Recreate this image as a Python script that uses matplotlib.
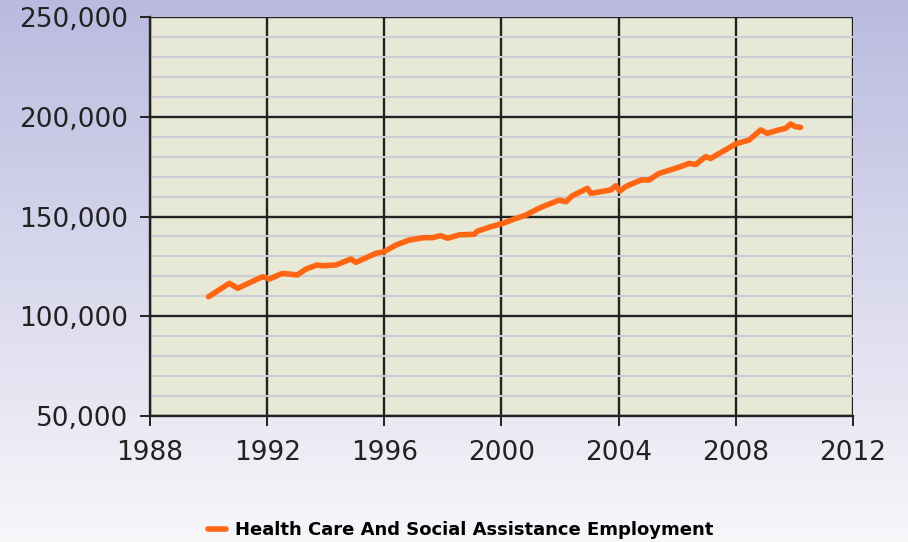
import numpy as np
import matplotlib
matplotlib.use('Agg')
import matplotlib.pyplot as plt
from matplotlib.ticker import FuncFormatter, MultipleLocator


# values (decimal year, employment)
years = [1990.0, 1990.71, 1990.99, 1991.84, 1992.08, 1992.52, 1993.03, 1993.33,
         1993.71, 1993.88, 1994.35, 1994.86, 1995.03, 1995.72, 1996.0, 1996.4,
         1996.85, 1997.36, 1997.64, 1997.93, 1998.16, 1998.56, 1999.07, 1999.17,
         1999.64, 2000.03, 2000.49, 2000.83, 2001.22, 2001.4, 2001.97, 2002.2,
         2002.42, 2002.93, 2003.05, 2003.73, 2003.9, 2004.04, 2004.24, 2004.76,
         2005.04, 2005.38, 2005.95, 2006.17, 2006.4, 2006.63, 2006.97, 2007.14,
         2007.54, 2008.0, 2008.45, 2008.85, 2009.07, 2009.47, 2009.7, 2009.87,
         2010.04, 2010.21]
employment = [109800, 116500, 114000, 119800, 118700, 121500, 120700, 123700,
              125700, 125300, 125700, 128700, 127000, 131600, 132400, 135700,
              138200, 139400, 139400, 140400, 139100, 140800, 141100, 142600,
              144900, 146500, 149000, 150700, 153700, 154900, 158200, 157400,
              160400, 164100, 161600, 163300, 165400, 162800, 165000, 168300,
              168300, 171600, 174200, 175300, 176600, 176100, 180000, 179100,
              182500, 186400, 188300, 193400, 191700, 193400, 194200, 196400,
              195000, 194700]
series_name = 'Health Care And Social Assistance Employment'

x_ticks = [1988, 1992, 1996, 2000, 2004, 2008, 2012]


fig = plt.figure(figsize=(9.08, 5.42), dpi=100)

# lavender to white background
bg = fig.add_axes([0, 0, 1, 1], zorder=-10)
top = np.array([186, 186, 224]) / 255.
bot = np.array([247, 247, 250]) / 255.
t = np.linspace(0, 1, 256)[:, None]
grad = top[None, :] * (1 - t) + bot[None, :] * t
bg.imshow(grad[:, None, :], aspect='auto', extent=[0, 1, 0, 1])
bg.axis('off')

ax = fig.add_axes([0.1652, 0.2325, 0.7742, 0.7361])
ax.set_facecolor('#e8e8d6')

ax.plot(years, employment, color='#ff6614', lw=4, solid_joinstyle='round',
        solid_capstyle='round', zorder=5, label=series_name)

ax.set_xlim(1988, 2012)
ax.set_ylim(50000, 250000)
ax.set_xticks(x_ticks)
ax.yaxis.set_major_locator(MultipleLocator(50000))
ax.yaxis.set_minor_locator(MultipleLocator(10000))
ax.yaxis.set_major_formatter(FuncFormatter(lambda v, p: '{:,.0f}'.format(v)))

ax.grid(which='minor', axis='y', color='#cdcdd6', lw=1.5, zorder=1)
ax.grid(which='major', color='#222222', lw=1.7, zorder=2)
ax.set_axisbelow(True)

for s in ax.spines.values():
    s.set_visible(False)
for side in ['left', 'bottom']:
    ax.spines[side].set_visible(True)
    ax.spines[side].set_color('#222222')
    ax.spines[side].set_linewidth(1.7)

ax.tick_params(which='major', length=7.5, width=1.4, color='#222222',
               labelsize=19, labelcolor='#222222')
ax.tick_params(axis='y', pad=8)
ax.tick_params(axis='x', pad=10)
ax.tick_params(which='minor', length=0)

fig.legend(loc='center', bbox_to_anchor=(0.507, 0.022), frameon=False,
           handlelength=1.0, handletextpad=0.5,
           prop={'weight': 'bold', 'size': 13})

fig.savefig('out.png', dpi=100)
